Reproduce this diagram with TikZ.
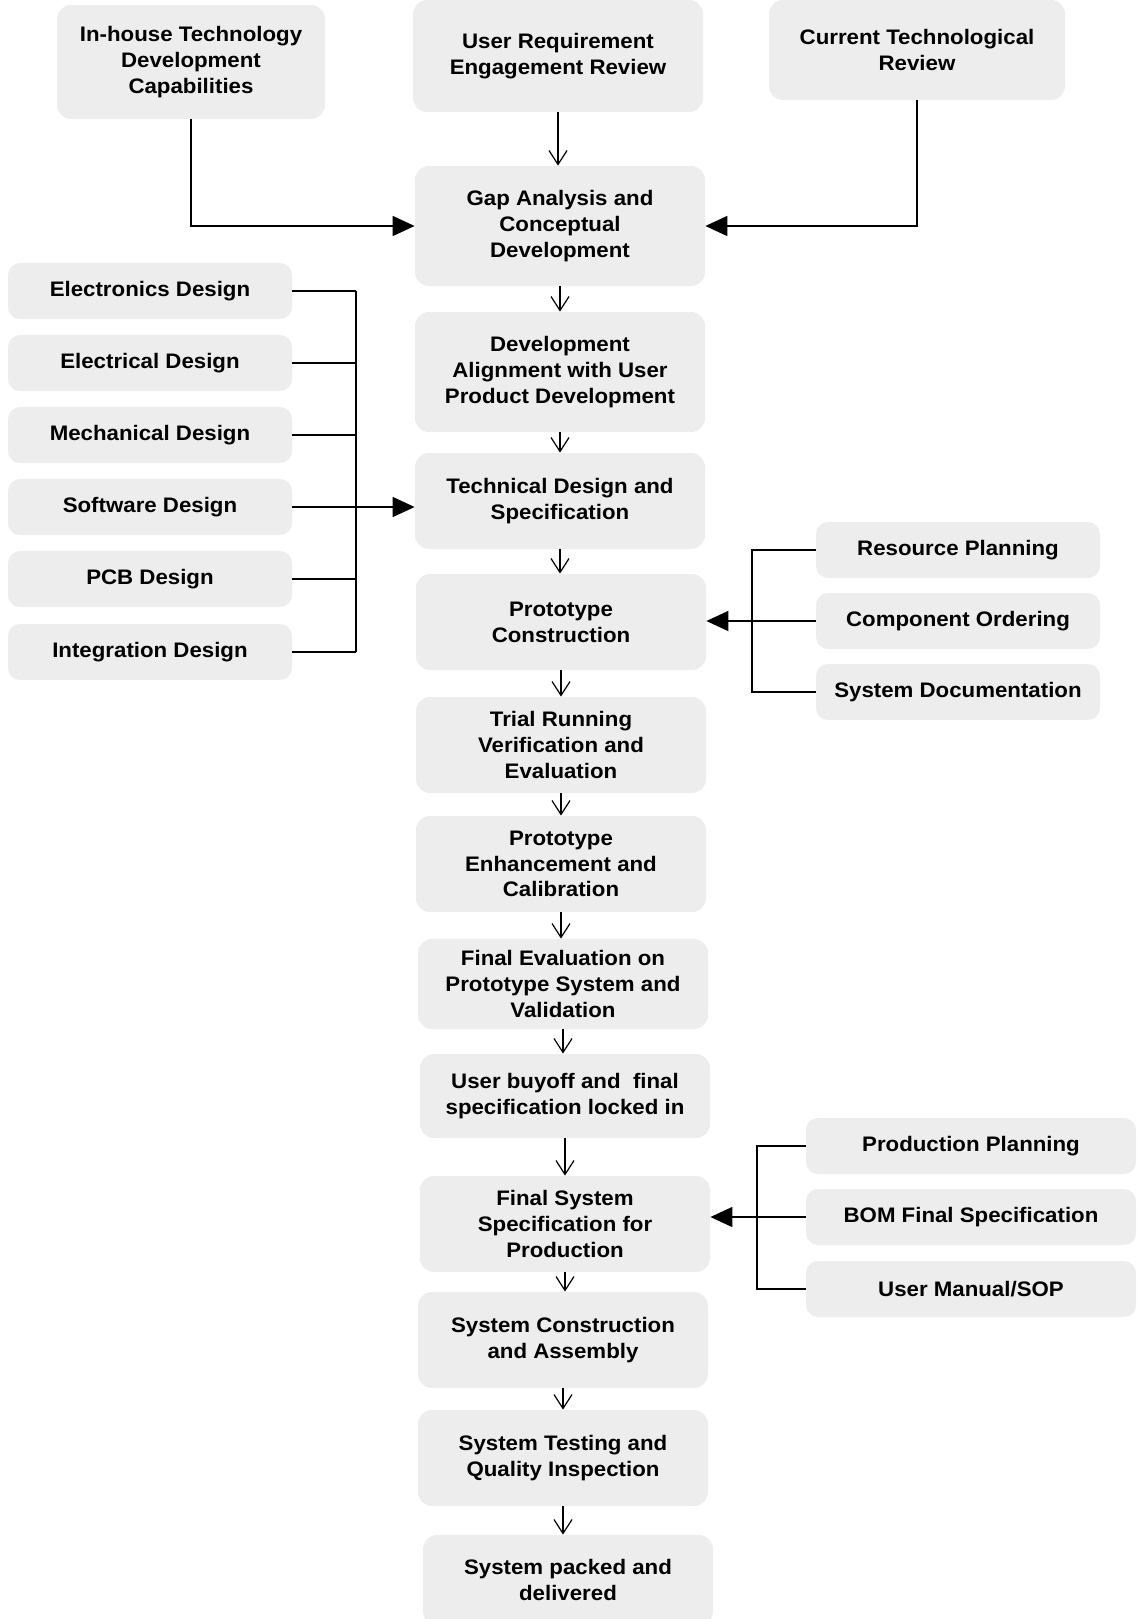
\documentclass[tikz,border=0pt]{standalone}
\usepackage{fontspec}
\setmainfont{Liberation Sans}[FakeStretch=1.06]
\usetikzlibrary{arrows.meta}
\definecolor{boxgray}{gray}{0.93}
\begin{document}
\begin{tikzpicture}[x=0.5pt,y=-0.5pt,
  txt/.style={font=\fontsize{10.5}{12.9}\selectfont\bfseries, align=center, inner sep=0pt},
  mainbox/.style={txt, fill=boxgray, rounded corners=7pt, minimum width=145pt, minimum height=48pt},
  sidebox/.style={txt, fill=boxgray, rounded corners=6pt, minimum width=142pt, minimum height=28pt},
  conn/.style={line width=0.8pt},
  bigtip/.style={-{Triangle[length=11pt,width=10pt]}},
  flow/.style={line width=0.6pt, -{Straight Barb[length=7pt,width=9pt]}}]
\useasboundingbox (0,0) rectangle (1139,1619);

% top row
\node[mainbox, minimum width=134pt, minimum height=57pt] (ih) at (191,62) {In-house Technology\\Development\\Capabilities};
\node[mainbox, minimum width=145pt, minimum height=56pt] (ur) at (558,56) {User Requirement\\Engagement Review};
\node[mainbox, minimum width=148pt, minimum height=50pt] (ct) at (917,50) {Current Technological\\Review};

% main column
\node[mainbox, minimum height=60pt] (gap) at (560,226) {Gap Analysis and\\Conceptual\\Development};
\node[mainbox, minimum height=60pt] (dev) at (560,372) {Development\\Alignment with User\\Product Development};
\node[mainbox, minimum height=48pt] (tech) at (560,501) {Technical Design and\\Specification};
\node[mainbox] (proto) at (561,622) {Prototype\\Construction};
\node[mainbox] (trial) at (561,745) {Trial Running\\Verification and\\Evaluation};
\node[mainbox] (enh) at (561,864) {Prototype\\Enhancement and\\Calibration};
\node[mainbox, minimum height=45pt] (fe) at (563,984) {Final Evaluation on\\Prototype System and\\Validation};
\node[mainbox, minimum height=42pt] (buy) at (565,1096) {User buyoff and~~final\\specification locked in};
\node[mainbox] (fs) at (565,1224) {Final System\\Specification for\\Production};
\node[mainbox] (sc) at (563,1340) {System Construction\\and Assembly};
\node[mainbox] (test) at (563,1458) {System Testing and\\Quality Inspection};
\node[mainbox, minimum height=45pt] (pack) at (568,1580) {System packed and\\delivered};

% left group
\node[sidebox] (ed) at (150,291) {Electronics Design};
\node[sidebox] (el) at (150,363) {Electrical Design};
\node[sidebox] (md) at (150,435) {Mechanical Design};
\node[sidebox] (sw) at (150,507) {Software Design};
\node[sidebox] (pcb) at (150,579) {PCB Design};
\node[sidebox] (ig) at (150,652) {Integration Design};
\coordinate (lbx) at (356,0);

% right group 1
\node[sidebox] (rp) at (958,550) {Resource Planning};
\node[sidebox] (co) at (958,621) {Component Ordering};
\node[sidebox] (sd) at (958,692) {System Documentation};
\coordinate (rbx1) at (752,0);

% right group 2
\node[sidebox, minimum width=165pt] (pp) at (971,1146) {Production Planning};
\node[sidebox, minimum width=165pt] (bom) at (971,1217) {BOM Final Specification};
\node[sidebox, minimum width=165pt] (um) at (971,1289) {User Manual/SOP};
\coordinate (rbx2) at (757,0);

% top connectors
\draw[conn, bigtip] (ih.south) |- (gap.west);
\draw[conn, bigtip] (ct.south) |- (gap.east);
\draw[flow] (ur.south) -- (ur.south |- gap.north);

% main flow
\draw[flow] (gap.south) -- (gap.south |- dev.north);
\draw[flow] (dev.south) -- (dev.south |- tech.north);
\draw[flow] (tech.south) -- (tech.south |- proto.north);
\draw[flow] (proto.south) -- (proto.south |- trial.north);
\draw[flow] (trial.south) -- (trial.south |- enh.north);
\draw[flow] (enh.south) -- (enh.south |- fe.north);
\draw[flow] (fe.south) -- (fe.south |- buy.north);
\draw[flow] (buy.south) -- (buy.south |- fs.north);
\draw[flow] (fs.south) -- (fs.south |- sc.north);
\draw[flow] (sc.south) -- (sc.south |- test.north);
\draw[flow] (test.south) -- (test.south |- pack.north);

% left bracket
\draw[conn] (ed.east) -- (ed.east -| lbx);
\draw[conn] (el.east) -- (el.east -| lbx);
\draw[conn] (md.east) -- (md.east -| lbx);
\draw[conn] (pcb.east) -- (pcb.east -| lbx);
\draw[conn] (ig.east) -- (ig.east -| lbx);
\draw[conn] (ed.east -| lbx) -- (ig.east -| lbx);
\draw[conn, bigtip] (sw.east) -- (sw.east -| tech.west);

% right bracket 1
\draw[conn] (rp.west) -- (rp.west -| rbx1) -- (sd.west -| rbx1) -- (sd.west);
\draw[conn] (co.west) -- (co.west -| rbx1);
\draw[conn, bigtip] (co.west -| rbx1) -- (co.west -| proto.east);

% right bracket 2
\draw[conn] (pp.west) -- (pp.west -| rbx2) -- (um.west -| rbx2) -- (um.west);
\draw[conn] (bom.west) -- (bom.west -| rbx2);
\draw[conn, bigtip] (bom.west -| rbx2) -- (bom.west -| fs.east);
\end{tikzpicture}
\end{document}
